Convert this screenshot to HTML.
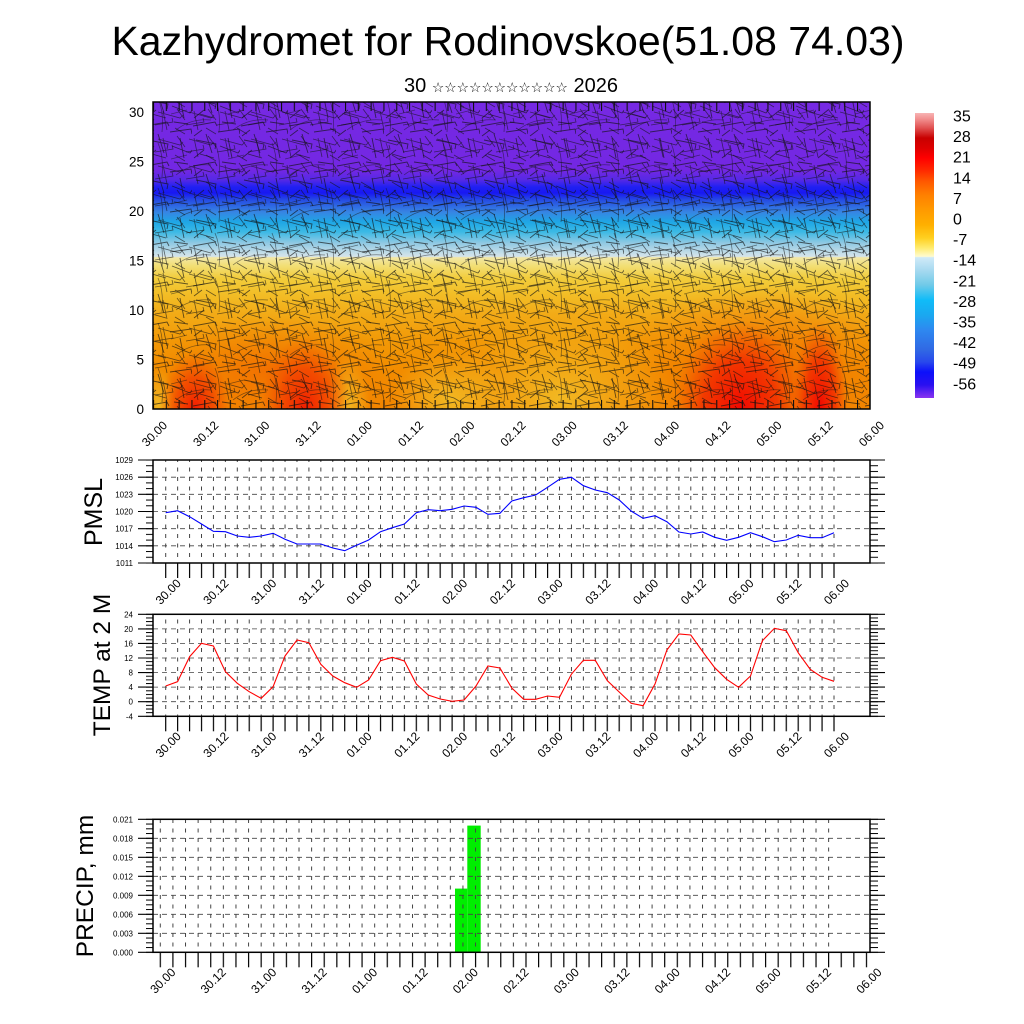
<!DOCTYPE html>
<html><head><meta charset="utf-8"><style>html,body{margin:0;padding:0;background:#fff}svg{display:block}</style></head>
<body>
<svg width="1024" height="1024" viewBox="0 0 1024 1024" xmlns="http://www.w3.org/2000/svg" font-family="'Liberation Sans','DejaVu Sans',sans-serif">
<defs>
 <clipPath id="cp"><rect x="153" y="102" width="717" height="307"/></clipPath>
 <linearGradient id="bg" gradientUnits="userSpaceOnUse" x1="0" y1="102" x2="0" y2="409">
  <stop offset="0" stop-color="#7d2cf0"/>
  <stop offset="0.2215" stop-color="#7a2af0"/>
  <stop offset="0.2541" stop-color="#5a2cf2"/>
  <stop offset="0.2769" stop-color="#2222ff"/>
  <stop offset="0.2964" stop-color="#1a1aff"/>
  <stop offset="0.3192" stop-color="#2850f0"/>
  <stop offset="0.3583" stop-color="#3a8cf0"/>
  <stop offset="0.3909" stop-color="#20b0f2"/>
  <stop offset="0.4235" stop-color="#40c4f2"/>
  <stop offset="0.4593" stop-color="#98d4f0"/>
  <stop offset="0.4951" stop-color="#d4ecf6"/>
  <stop offset="0.5033" stop-color="#e0f0f8"/>
  <stop offset="0.5065" stop-color="#fff4b0"/>
  <stop offset="0.5309" stop-color="#ffec80"/>
  <stop offset="0.5733" stop-color="#ffd840"/>
  <stop offset="0.6287" stop-color="#ffc828"/>
  <stop offset="0.6938" stop-color="#ffb418"/>
  <stop offset="0.7752" stop-color="#ffa208"/>
  <stop offset="0.873" stop-color="#ff9400"/>
  <stop offset="1" stop-color="#ff8c00"/>
 </linearGradient>
 <linearGradient id="cb" gradientUnits="userSpaceOnUse" x1="0" y1="113" x2="0" y2="398">
  <stop offset="0" stop-color="#f8b4b4"/>
  <stop offset="0.0246" stop-color="#f08888"/>
  <stop offset="0.0526" stop-color="#e05050"/>
  <stop offset="0.0877" stop-color="#c80000"/>
  <stop offset="0.1228" stop-color="#dd0000"/>
  <stop offset="0.1579" stop-color="#ff0000"/>
  <stop offset="0.2" stop-color="#ff2800"/>
  <stop offset="0.2421" stop-color="#ff5a00"/>
  <stop offset="0.2877" stop-color="#ff8000"/>
  <stop offset="0.3404" stop-color="#ff9a00"/>
  <stop offset="0.393" stop-color="#ffb000"/>
  <stop offset="0.4386" stop-color="#ffd020"/>
  <stop offset="0.4737" stop-color="#ffec70"/>
  <stop offset="0.5035" stop-color="#fffbd0"/>
  <stop offset="0.507" stop-color="#d0eaf8"/>
  <stop offset="0.5509" stop-color="#a8daf0"/>
  <stop offset="0.6035" stop-color="#70cae8"/>
  <stop offset="0.6561" stop-color="#10bcf8"/>
  <stop offset="0.7088" stop-color="#1aa8f0"/>
  <stop offset="0.7614" stop-color="#2e88f0"/>
  <stop offset="0.8316" stop-color="#3068e4"/>
  <stop offset="0.8737" stop-color="#2848ec"/>
  <stop offset="0.9088" stop-color="#0c10fa"/>
  <stop offset="0.9544" stop-color="#2a10f0"/>
  <stop offset="1" stop-color="#8a34f0"/>
 </linearGradient>
 <radialGradient id="gRed"><stop offset="0" stop-color="#ff1800" stop-opacity="0.95"/><stop offset="0.55" stop-color="#ff3000" stop-opacity="0.6"/><stop offset="1" stop-color="#ff5000" stop-opacity="0"/></radialGradient>
 <radialGradient id="gRed2"><stop offset="0" stop-color="#ff0000" stop-opacity="0.95"/><stop offset="0.55" stop-color="#ff1500" stop-opacity="0.65"/><stop offset="1" stop-color="#ff4000" stop-opacity="0"/></radialGradient>
 <radialGradient id="gOr"><stop offset="0" stop-color="#ff6a00" stop-opacity="0.7"/><stop offset="1" stop-color="#ff7a00" stop-opacity="0"/></radialGradient>
 <radialGradient id="gYe"><stop offset="0" stop-color="#ffc828" stop-opacity="0.9"/><stop offset="1" stop-color="#ffc828" stop-opacity="0"/></radialGradient>
 <pattern id="barbA" width="48" height="40" patternUnits="userSpaceOnUse">
  <path d="M1 6L23 2l2 4M26 12L47 9l1 5M4 20L24 24l-1 5M28 26L46 33l3-4M8 34L22 38M14 14L20 33M36 18L40 38M2 38L12 30M30 2L44 4M10 10L2 16" stroke="#111" stroke-width="0.9" fill="none" stroke-opacity="0.65"/>
 </pattern>
 <pattern id="barbB" width="31" height="27" patternUnits="userSpaceOnUse">
  <path d="M3 4L25 10l3-3M0 17L18 14l-1-4M20 20L30 26M12 22L8 3M22 1L30 12" stroke="#111" stroke-width="0.8" fill="none" stroke-opacity="0.6"/>
 </pattern>
 <pattern id="barbC" width="57" height="45" patternUnits="userSpaceOnUse">
  <path d="M5 40Q20 28 40 30M44 8Q50 22 48 42M0 24L16 20" stroke="#111" stroke-width="0.8" fill="none" stroke-opacity="0.5"/>
 </pattern>
 <pattern id="edgeT" x="153" width="12.8" height="20" patternUnits="userSpaceOnUse"><rect x="0" y="0" width="1.1" height="20" fill="#111"/></pattern>
 <pattern id="vg1" x="165.2" y="0" width="11.934" height="9.5" patternUnits="userSpaceOnUse"><rect x="0" y="2" width="1" height="4" fill="#444"/></pattern>
 <pattern id="vg2" x="159.8" y="0" width="12.61" height="9.5" patternUnits="userSpaceOnUse"><rect x="0" y="2" width="1" height="4" fill="#444"/></pattern>
 <pattern id="tk1" x="165.1" y="0" width="11.934" height="20" patternUnits="userSpaceOnUse"><rect x="0" y="0" width="1.2" height="20" fill="#000"/></pattern>
 <pattern id="tk2" x="159.7" y="0" width="12.61" height="20" patternUnits="userSpaceOnUse"><rect x="0" y="0" width="1.2" height="20" fill="#000"/></pattern>
 <pattern id="mh1" x="0" y="459.5" width="20" height="5.722" patternUnits="userSpaceOnUse"><rect x="0" y="0" width="20" height="1" fill="#000"/></pattern>
 <pattern id="mh2" x="0" y="613.8" width="20" height="3.643" patternUnits="userSpaceOnUse"><rect x="0" y="0" width="20" height="1" fill="#000"/></pattern>
 <pattern id="mh3" x="0" y="818.8" width="20" height="4.75" patternUnits="userSpaceOnUse"><rect x="0" y="0" width="20" height="1" fill="#000"/></pattern>
</defs>

<rect width="1024" height="1024" fill="#fff"/>

<!-- Titles -->
<text x="508" y="55" font-size="41" text-anchor="middle" fill="#000">Kazhydromet for Rodinovskoe(51.08 74.03)</text>
<text x="511" y="92" font-size="20" text-anchor="middle" fill="#000">30 <tspan font-family="'DejaVu Sans',sans-serif" font-size="13.8">☆☆☆☆☆☆☆☆☆☆☆</tspan> 2026</text>

<!-- Top cross-section -->
<g clip-path="url(#cp)">
 <rect x="153" y="102" width="717" height="307" fill="url(#bg)"/>
 <ellipse cx="270" cy="370" rx="120" ry="55" fill="url(#gOr)"/>
 <ellipse cx="760" cy="360" rx="140" ry="75" fill="url(#gOr)"/>
 <ellipse cx="560" cy="398" rx="115" ry="85" fill="url(#gYe)"/>
 <ellipse cx="450" cy="400" rx="60" ry="50" fill="url(#gYe)"/>
 <ellipse cx="158" cy="405" rx="18" ry="40" fill="url(#gYe)"/>
 <ellipse cx="348" cy="409" rx="22" ry="55" fill="url(#gYe)"/>
 <ellipse cx="195" cy="409" rx="35" ry="58" fill="url(#gRed)"/>
 <ellipse cx="305" cy="409" rx="45" ry="72" fill="url(#gRed)"/>
 <ellipse cx="740" cy="409" rx="68" ry="88" fill="url(#gRed2)"/>
 <ellipse cx="820" cy="409" rx="28" ry="88" fill="url(#gRed2)"/>
 <rect x="153" y="102" width="717" height="307" fill="#000" opacity="0.05"/>
 <rect x="153" y="102" width="717" height="307" fill="url(#barbA)"/>
 <rect x="153" y="102" width="717" height="307" fill="url(#barbB)"/>
 <rect x="153" y="102" width="717" height="307" fill="url(#barbC)"/>
 <rect x="153" y="102" width="717" height="9" fill="url(#edgeT)"/>
 <rect x="153" y="400" width="717" height="9" fill="url(#edgeT)"/>
</g>
<rect x="153" y="102" width="717" height="307" fill="none" stroke="#000" stroke-width="1.5"/>

<g font-size="13.5" text-anchor="end" fill="#000">
 <text x="144" y="413.9">0</text>
 <text x="144" y="364.4">5</text>
 <text x="144" y="314.9">10</text>
 <text x="144" y="265.4">15</text>
 <text x="144" y="215.9">20</text>
 <text x="144" y="166.4">25</text>
 <text x="144" y="116.9">30</text>
</g>
<g font-size="12" text-anchor="end" fill="#000">
 <text transform="translate(168,426) rotate(-45)">30.00</text>
 <text transform="translate(219.2,426) rotate(-45)">30.12</text>
 <text transform="translate(270.4,426) rotate(-45)">31.00</text>
 <text transform="translate(321.6,426) rotate(-45)">31.12</text>
 <text transform="translate(372.8,426) rotate(-45)">01.00</text>
 <text transform="translate(424.1,426) rotate(-45)">01.12</text>
 <text transform="translate(475.3,426) rotate(-45)">02.00</text>
 <text transform="translate(526.5,426) rotate(-45)">02.12</text>
 <text transform="translate(577.7,426) rotate(-45)">03.00</text>
 <text transform="translate(628.9,426) rotate(-45)">03.12</text>
 <text transform="translate(680.1,426) rotate(-45)">04.00</text>
 <text transform="translate(731.3,426) rotate(-45)">04.12</text>
 <text transform="translate(782.5,426) rotate(-45)">05.00</text>
 <text transform="translate(833.7,426) rotate(-45)">05.12</text>
 <text transform="translate(885,426) rotate(-45)">06.00</text>
</g>

<!-- Colorbar -->
<rect x="915" y="113" width="19" height="285" fill="url(#cb)"/>
<g font-size="16" fill="#000">
 <text x="953" y="121.5">35</text>
 <text x="953" y="142.1">28</text>
 <text x="953" y="162.7">21</text>
 <text x="953" y="183.3">14</text>
 <text x="953" y="203.9">7</text>
 <text x="953" y="224.5">0</text>
 <text x="953" y="245.1">-7</text>
 <text x="953" y="265.7">-14</text>
 <text x="953" y="286.3">-21</text>
 <text x="953" y="306.9">-28</text>
 <text x="953" y="327.5">-35</text>
 <text x="953" y="348.1">-42</text>
 <text x="953" y="368.7">-49</text>
 <text x="953" y="389.3">-56</text>
</g>

<!-- PMSL panel -->
<rect x="160" y="460" width="680" height="103" fill="url(#vg1)"/>
<g stroke="#444" stroke-width="0.8" stroke-dasharray="5 4">
 <line x1="153" x2="870" y1="477.2" y2="477.2"/>
 <line x1="153" x2="870" y1="494.3" y2="494.3"/>
 <line x1="153" x2="870" y1="511.5" y2="511.5"/>
 <line x1="153" x2="870" y1="528.7" y2="528.7"/>
 <line x1="153" x2="870" y1="545.8" y2="545.8"/>
</g>
<polyline fill="none" stroke="#0000ff" stroke-width="1.1" points="165.7,512.7 177.6,510.7 189.6,516.7 201.5,524 213.4,531.3 225.4,531.7 237.3,536 249.2,537.3 261.2,536 273.1,533.3 285,539.3 297,544 308.9,544 320.8,544 332.8,548 344.7,550.7 356.6,545.3 368.6,540 380.5,531.7 392.4,527.7 404.4,524 416.3,512.7 428.2,509.7 440.2,510.7 452.1,509.3 464.1,506 476,507.3 487.9,514.3 499.9,513.3 511.8,501 523.7,497.7 535.7,495 547.6,487.3 559.5,479.3 571.5,477.3 583.4,485.7 595.3,490 607.3,492.7 619.2,500 631.1,511 643.1,518.3 655,515.7 666.9,521.7 678.9,532 690.8,534 702.7,532 714.7,537.3 726.6,540.3 738.6,537.3 750.5,532.7 762.4,536.7 774.4,541.7 786.3,540 798.2,535.3 810.2,537.7 822.1,537.7 834,532.7"/>
<rect x="153" y="460" width="717" height="103" fill="none" stroke="#000" stroke-width="1.5"/>
<rect x="160" y="563" width="680" height="15" fill="url(#tk1)"/>
<rect x="146" y="459" width="7" height="105" fill="url(#mh1)"/>
<rect x="870" y="459" width="8" height="105" fill="url(#mh1)"/>
<path d="M138 460H153M138 477.2H153M138 494.3H153M138 511.5H153M138 528.7H153M138 545.8H153M138 563H153M870 460H885M870 477.2H885M870 494.3H885M870 511.5H885M870 528.7H885M870 545.8H885M870 563H885" stroke="#000" stroke-width="1.1"/>
<g font-size="8" text-anchor="end" fill="#000">
 <text x="133" y="463">1029</text>
 <text x="133" y="480.2">1026</text>
 <text x="133" y="497.3">1023</text>
 <text x="133" y="514.5">1020</text>
 <text x="133" y="531.7">1017</text>
 <text x="133" y="548.8">1014</text>
 <text x="133" y="566">1011</text>
</g>
<text transform="translate(102,512) rotate(-90)" font-size="25" text-anchor="middle" fill="#000">PMSL</text>
<g font-size="12" text-anchor="end" fill="#000">
 <text transform="translate(181.7,584) rotate(-45)">30.00</text>
 <text transform="translate(229.4,584) rotate(-45)">30.12</text>
 <text transform="translate(277.2,584) rotate(-45)">31.00</text>
 <text transform="translate(324.9,584) rotate(-45)">31.12</text>
 <text transform="translate(372.6,584) rotate(-45)">01.00</text>
 <text transform="translate(420.4,584) rotate(-45)">01.12</text>
 <text transform="translate(468.1,584) rotate(-45)">02.00</text>
 <text transform="translate(515.9,584) rotate(-45)">02.12</text>
 <text transform="translate(563.6,584) rotate(-45)">03.00</text>
 <text transform="translate(611.3,584) rotate(-45)">03.12</text>
 <text transform="translate(659.1,584) rotate(-45)">04.00</text>
 <text transform="translate(706.8,584) rotate(-45)">04.12</text>
 <text transform="translate(754.5,584) rotate(-45)">05.00</text>
 <text transform="translate(802.3,584) rotate(-45)">05.12</text>
 <text transform="translate(850,584) rotate(-45)">06.00</text>
</g>

<!-- TEMP panel -->
<rect x="160" y="614.3" width="680" height="102" fill="url(#vg1)"/>
<g stroke="#444" stroke-width="0.8" stroke-dasharray="5 4">
 <line x1="153" x2="870" y1="628.9" y2="628.9"/>
 <line x1="153" x2="870" y1="643.4" y2="643.4"/>
 <line x1="153" x2="870" y1="658" y2="658"/>
 <line x1="153" x2="870" y1="672.6" y2="672.6"/>
 <line x1="153" x2="870" y1="687.1" y2="687.1"/>
 <line x1="153" x2="870" y1="701.7" y2="701.7"/>
</g>
<polyline fill="none" stroke="#ff0000" stroke-width="1.1" points="165.7,686 177.6,681.7 189.6,656.7 201.5,643.3 213.4,646 225.4,671.7 237.3,683.3 249.2,691.7 261.2,698.3 273.1,686.7 285,656 297,640 308.9,642.7 320.8,664.3 332.8,676 344.7,682.7 356.6,687.3 368.6,680 380.5,660.7 392.4,657.3 404.4,661 416.3,684 428.2,695 440.2,699 452.1,701.3 464.1,700 476,686 487.9,666 499.9,668 511.8,688 523.7,699.3 535.7,699.3 547.6,696 559.5,697.3 571.5,674 583.4,660.3 595.3,660.3 607.3,680.7 619.2,692 631.1,703.3 643.1,705.7 655,684 666.9,650 678.9,634 690.8,635 702.7,651.7 714.7,667.7 726.6,679.3 738.6,687.3 750.5,676 762.4,640.7 774.4,628.3 786.3,630.7 798.2,652.7 810.2,669.3 822.1,677.3 834,681.3"/>
<rect x="153" y="614.3" width="717" height="102" fill="none" stroke="#000" stroke-width="1.5"/>
<rect x="160" y="716.3" width="680" height="15" fill="url(#tk1)"/>
<rect x="146" y="613.5" width="7" height="104" fill="url(#mh2)"/>
<rect x="870" y="613.5" width="8" height="104" fill="url(#mh2)"/>
<path d="M138 614.3H153M138 628.9H153M138 643.4H153M138 658H153M138 672.6H153M138 687.1H153M138 701.7H153M138 716.3H153M870 614.3H885M870 628.9H885M870 643.4H885M870 658H885M870 672.6H885M870 687.1H885M870 701.7H885M870 716.3H885" stroke="#000" stroke-width="1.1"/>
<g font-size="8" text-anchor="end" fill="#000">
 <text x="133" y="617.3">24</text>
 <text x="133" y="631.9">20</text>
 <text x="133" y="646.4">16</text>
 <text x="133" y="661">12</text>
 <text x="133" y="675.6">8</text>
 <text x="133" y="690.1">4</text>
 <text x="133" y="704.7">0</text>
 <text x="133" y="719.3">-4</text>
</g>
<text transform="translate(110,665) rotate(-90)" font-size="24.5" text-anchor="middle" fill="#000">TEMP at 2 M</text>
<g font-size="12" text-anchor="end" fill="#000">
 <text transform="translate(181.7,737) rotate(-45)">30.00</text>
 <text transform="translate(229.4,737) rotate(-45)">30.12</text>
 <text transform="translate(277.2,737) rotate(-45)">31.00</text>
 <text transform="translate(324.9,737) rotate(-45)">31.12</text>
 <text transform="translate(372.6,737) rotate(-45)">01.00</text>
 <text transform="translate(420.4,737) rotate(-45)">01.12</text>
 <text transform="translate(468.1,737) rotate(-45)">02.00</text>
 <text transform="translate(515.9,737) rotate(-45)">02.12</text>
 <text transform="translate(563.6,737) rotate(-45)">03.00</text>
 <text transform="translate(611.3,737) rotate(-45)">03.12</text>
 <text transform="translate(659.1,737) rotate(-45)">04.00</text>
 <text transform="translate(706.8,737) rotate(-45)">04.12</text>
 <text transform="translate(754.5,737) rotate(-45)">05.00</text>
 <text transform="translate(802.3,737) rotate(-45)">05.12</text>
 <text transform="translate(850,737) rotate(-45)">06.00</text>
</g>

<!-- PRECIP panel -->
<rect x="455" y="888.6" width="12.3" height="63.7" fill="#00ee00"/>
<rect x="467.3" y="825.6" width="13.4" height="126.7" fill="#00ee00"/>
<rect x="155" y="819.3" width="685" height="133" fill="url(#vg2)"/>
<g stroke="#444" stroke-width="0.8" stroke-dasharray="5 4">
 <line x1="153" x2="870" y1="838.3" y2="838.3"/>
 <line x1="153" x2="870" y1="857.3" y2="857.3"/>
 <line x1="153" x2="870" y1="876.3" y2="876.3"/>
 <line x1="153" x2="870" y1="895.3" y2="895.3"/>
 <line x1="153" x2="870" y1="914.3" y2="914.3"/>
 <line x1="153" x2="870" y1="933.3" y2="933.3"/>
</g>
<rect x="153" y="819.3" width="717" height="133" fill="none" stroke="#000" stroke-width="1.5"/>
<rect x="155" y="952.3" width="715" height="15" fill="url(#tk2)"/>
<rect x="146" y="818.5" width="7" height="135" fill="url(#mh3)"/>
<rect x="870" y="818.5" width="8" height="135" fill="url(#mh3)"/>
<path d="M138 819.3H153M138 838.3H153M138 857.3H153M138 876.3H153M138 895.3H153M138 914.3H153M138 933.3H153M138 952.3H153M870 819.3H885M870 838.3H885M870 857.3H885M870 876.3H885M870 895.3H885M870 914.3H885M870 933.3H885M870 952.3H885" stroke="#000" stroke-width="1.1"/>
<g font-size="8" text-anchor="end" fill="#000">
 <text x="133" y="822.3">0.021</text>
 <text x="133" y="841.3">0.018</text>
 <text x="133" y="860.3">0.015</text>
 <text x="133" y="879.3">0.012</text>
 <text x="133" y="898.3">0.009</text>
 <text x="133" y="917.3">0.006</text>
 <text x="133" y="936.3">0.003</text>
 <text x="133" y="955.3">0.000</text>
</g>
<text transform="translate(93,886) rotate(-90)" font-size="24.5" text-anchor="middle" fill="#000">PRECIP, mm</text>
<g font-size="12" text-anchor="end" fill="#000">
 <text transform="translate(176.3,973) rotate(-45)">30.00</text>
 <text transform="translate(226.7,973) rotate(-45)">30.12</text>
 <text transform="translate(277.2,973) rotate(-45)">31.00</text>
 <text transform="translate(327.6,973) rotate(-45)">31.12</text>
 <text transform="translate(378.1,973) rotate(-45)">01.00</text>
 <text transform="translate(428.5,973) rotate(-45)">01.12</text>
 <text transform="translate(478.9,973) rotate(-45)">02.00</text>
 <text transform="translate(529.4,973) rotate(-45)">02.12</text>
 <text transform="translate(579.8,973) rotate(-45)">03.00</text>
 <text transform="translate(630.3,973) rotate(-45)">03.12</text>
 <text transform="translate(680.7,973) rotate(-45)">04.00</text>
 <text transform="translate(731.1,973) rotate(-45)">04.12</text>
 <text transform="translate(781.6,973) rotate(-45)">05.00</text>
 <text transform="translate(832,973) rotate(-45)">05.12</text>
 <text transform="translate(882.5,973) rotate(-45)">06.00</text>
</g>
</svg>
</body></html>
